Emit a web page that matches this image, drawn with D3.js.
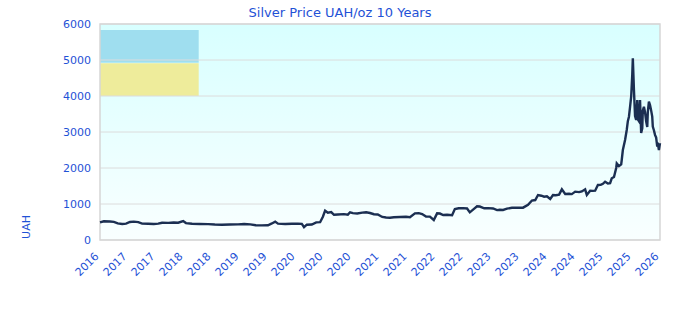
<!DOCTYPE html>
<html>
<head>
<meta charset="utf-8">
<script src="https://cdn.jsdelivr.net/npm/d3@7"></script>
<style>
body { margin: 0; background: #ffffff; }
text { font-family: "DejaVu Sans", sans-serif; fill: #1f52d6; }
</style>
</head>
<body>
<div id="chart"></div>
<script>
// silver price in UAH per ounce
var dates = [2016.00, 2016.07, 2016.18, 2016.25, 2016.32, 2016.40, 2016.47, 2016.54, 2016.61, 2016.69,
  2016.76, 2016.87, 2016.97, 2017.05, 2017.12, 2017.23, 2017.33, 2017.41, 2017.50, 2017.55,
  2017.66, 2017.80, 2017.95, 2018.07, 2018.20, 2018.34, 2018.49, 2018.60, 2018.71, 2018.81,
  2018.92, 2019.03, 2019.10, 2019.16, 2019.21, 2019.34, 2019.46, 2019.57, 2019.64, 2019.68,
  2019.73, 2019.82, 2019.90, 2019.97, 2020.02, 2020.06, 2020.11, 2020.17, 2020.22, 2020.29,
  2020.40, 2020.47, 2020.51, 2020.56, 2020.64, 2020.73, 2020.80, 2020.87, 2020.94, 2021.01,
  2021.09, 2021.16, 2021.23, 2021.30, 2021.41, 2021.52, 2021.59, 2021.68, 2021.75, 2021.81,
  2021.88, 2021.95, 2022.02, 2022.08, 2022.13, 2022.19, 2022.26, 2022.35, 2022.40, 2022.47,
  2022.55, 2022.62, 2022.67, 2022.75, 2022.80, 2022.85, 2022.93, 2023.00, 2023.09, 2023.16,
  2023.21, 2023.27, 2023.34, 2023.43, 2023.52, 2023.63, 2023.72, 2023.79, 2023.85, 2023.90,
  2023.96, 2024.01, 2024.06, 2024.12, 2024.17, 2024.22, 2024.28, 2024.33, 2024.39, 2024.46,
  2024.51, 2024.57, 2024.64, 2024.69, 2024.75, 2024.78, 2024.84, 2024.89, 2024.93, 2024.98,
  2025.03, 2025.07, 2025.11, 2025.16, 2025.20, 2025.23, 2025.27, 2025.31, 2025.32, 2025.36,
  2025.40, 2025.41, 2025.43, 2025.47, 2025.50, 2025.52, 2025.54, 2025.56, 2025.58, 2025.60,
  2025.61, 2025.63, 2025.65, 2025.67, 2025.69, 2025.70, 2025.72, 2025.74, 2025.76, 2025.78,
  2025.79, 2025.81, 2025.83, 2025.85, 2025.87, 2025.88, 2025.90, 2025.92, 2025.94, 2025.96,
  2025.97, 2025.99, 2026.01, 2026.03, 2026.05, 2026.06, 2026.08, 2026.10];

var prices = [490, 520, 515, 505, 460, 445, 455, 500, 510, 495,
  455, 450, 445, 455, 480, 475, 485, 480, 528, 470,
  450, 445, 440, 430, 425, 430, 435, 445, 435, 410,
  405, 410, 460, 510, 455, 445, 450, 455, 450, 355,
  425, 430, 490, 495, 648, 815, 760, 775, 700, 710,
  720, 705, 770, 745, 735, 760, 770, 750, 715, 710,
  640, 625, 620, 630, 640, 645, 635, 740, 745, 720,
  650, 648, 555, 740, 735, 694, 700, 690, 860, 880,
  885, 875, 768, 870, 935, 930, 880, 885, 875, 830,
  840, 835, 870, 895, 900, 898, 975, 1097, 1110, 1250,
  1230, 1204, 1215, 1139, 1250, 1245, 1260, 1407, 1278, 1285,
  1275, 1343, 1330, 1350, 1407, 1250, 1370, 1365, 1370, 1528,
  1530, 1560, 1620, 1570, 1580, 1713, 1750, 2000, 2130, 2055,
  2100, 2222, 2500, 2780, 3056, 3300, 3425, 3700, 3980, 4600,
  5046, 4170, 3440, 3333, 3889, 3350, 3300, 3889, 2970, 3100,
  3600, 3700, 3550, 3300, 3140, 3550, 3843, 3750, 3600, 3426,
  3150, 3050, 2920, 2850, 2593, 2700, 2500, 2690];

var yTicks = [0, 1000, 2000, 3000, 4000, 5000, 6000];

var xTickLabels = ["2016", "2017", "2017", "2018", "2018", "2019", "2019", "2020", "2020", "2020",
  "2021", "2021", "2022", "2022", "2023", "2023", "2024", "2024", "2025", "2025", "2026"];

// the two shaded boxes in the top left corner
var boxNames = ["blue", "yellow"];
var boxFrom = [2016.0, 2016.0];
var boxTo = [2017.78, 2017.78];
var boxLow = [4925, 4000];
var boxHigh = [5833, 4910];

var svgWidth = 680;
var svgHeight = 320;

var margin = {
    top: 24,
    right: 20,
    bottom: 80,
    left: 100
};

var width = svgWidth - margin.left - margin.right;
var height = svgHeight - margin.top - margin.bottom;

var svg = d3.select("#chart")
.append("svg")
.attr("width", svgWidth)
.attr("height", svgHeight);

var grad = svg.append("defs").append("linearGradient")
.attr("id", "bg")
.attr("x1", 0).attr("y1", 0).attr("x2", 0).attr("y2", 1);
grad.append("stop").attr("offset", "0%").attr("stop-color", "#d8ffff");
grad.append("stop").attr("offset", "100%").attr("stop-color", "#f9ffff");

var chartGroup = svg.append("g")
.attr("transform", `translate(${margin.left},${margin.top})`);

var xScale = d3.scaleLinear()
.domain([2016.0, 2026.1])
.range([0, width]);

var yScale = d3.scaleLinear()
.domain([0, 6000])
.range([height, 0]);

var tickScale = d3.scalePoint()
.domain(d3.range(xTickLabels.length))
.range([0, width]);

chartGroup.append("rect")
.attr("width", width)
.attr("height", height)
.attr("fill", "url(#bg)");

var boxColors = { blue: "#9fdeef", yellow: "#eeec9b" };

chartGroup.selectAll(".box")
.data(boxNames)
.enter()
.append("rect")
.attr("class", "box")
.attr("x", (d, i) => xScale(boxFrom[i]))
.attr("y", (d, i) => yScale(boxHigh[i]))
.attr("width", (d, i) => xScale(boxTo[i]) - xScale(boxFrom[i]))
.attr("height", (d, i) => yScale(boxLow[i]) - yScale(boxHigh[i]))
.attr("fill", d => boxColors[d]);

// grid lines
chartGroup.append("g")
.selectAll("line")
.data(yTicks)
.enter()
.append("line")
.attr("x1", 0)
.attr("x2", width)
.attr("y1", d => yScale(d))
.attr("y2", d => yScale(d))
.attr("stroke", "#dcdcdc")
.attr("stroke-width", 1);

chartGroup.append("rect")
.attr("width", width)
.attr("height", height)
.attr("fill", "none")
.attr("stroke", "#d6d6d6")
.attr("stroke-width", 1.5);

var leftAxis = d3.axisLeft(yScale)
.tickValues(yTicks)
.tickSize(0)
.tickPadding(9)
.tickFormat(d3.format("d"));

var yAxis = chartGroup.append("g")
.call(leftAxis);
yAxis.select(".domain").remove();
yAxis.selectAll("text")
.attr("font-size", "11px")
.attr("font-family", "DejaVu Sans");

var bottomAxis = d3.axisBottom(tickScale)
.tickSize(0)
.tickFormat(i => xTickLabels[i]);

var xAxis = chartGroup.append("g")
.attr("transform", `translate(0, ${height})`)
.call(bottomAxis);
xAxis.select(".domain").remove();
xAxis.selectAll("text")
.attr("font-size", "11px")
.attr("font-family", "DejaVu Sans")
.attr("text-anchor", "end")
.attr("y", 0)
.attr("dy", 0)
.attr("transform", "translate(-1, 17) rotate(-45)");

var points = dates.map((d, i) => [d, prices[i]]);

var line = d3.line()
.x(d => xScale(d[0]))
.y(d => yScale(d[1]));

chartGroup.append("path")
.datum(points)
.attr("d", line)
.attr("fill", "none")
.attr("stroke", "#1b2f52")
.attr("stroke-width", 2.4)
.attr("stroke-linejoin", "miter");

svg.append("text")
.attr("x", svgWidth / 2)
.attr("y", 17)
.attr("text-anchor", "middle")
.attr("font-size", "13px")
.text("Silver Price UAH/oz 10 Years");

svg.append("text")
.attr("transform", "rotate(-90)")
.attr("x", -227)
.attr("y", 30)
.attr("text-anchor", "middle")
.attr("font-size", "11px")
.text("UAH");
</script>
</body>
</html>
